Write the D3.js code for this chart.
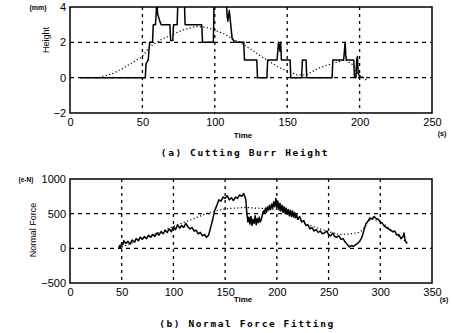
<!DOCTYPE html>
<html><head><meta charset="utf-8">
<script src="https://cdn.jsdelivr.net/npm/d3@7"></script>
<style>
body{margin:0;background:#fff;}
svg{display:block;}
.tick text{font-family:"Liberation Sans",Arial,sans-serif;font-size:11px;fill:#000;}
.lab{font-family:"Liberation Sans",Arial,sans-serif;fill:#000;}
.cap{font-family:"DejaVu Sans Mono",monospace;font-weight:bold;font-size:9.5px;fill:#000;letter-spacing:1.6px;}
</style></head><body>
<svg id="c" width="452" height="333"></svg>
<script>
// ---- Chart (a): Cutting Burr Height ----
const aXTicks = [0, 50, 100, 150, 200, 250];
const aYTicks = [-2, 0, 2, 4];
const aMeasured = [
 [7,0],[52,0],[52.5,0.8],[54,1.0],[55,2],[57,2],[57.5,3],[59,3],[59.5,3.6],[60,4.5],[60.5,3.6],[62,3.2],[63,3],
 [69,3],[69.5,2.1],[71,2.1],[71.5,3],[74,3],[74.5,4.3],[79,4.3],[79.5,3],[91,3],[91.5,2],[99,2],[99.5,4.3],
 [108,4.3],[108.5,3.5],[109,3.2],[110,3.8],[111,3.0],[112,2.2],[113,2.1],[114,2.0],[120,2.0],[120.5,1],[129,1],
 [129.5,0],[136,0],[136.5,1],[143,1],[144,2.0],[145,1.5],[145.5,2],[146,1],[152,1],[152.5,0],[160,0],[160.5,1],
 [163,1],[163.5,0],[181,0],[181.5,1],[189,1],[189.5,1.5],[190,2.0],[190.5,1.2],[191,1],[196,1],[196.5,0],
 [197.5,0],[198,1.0],[198.5,1.2],[199,0.3],[200,0.05],[203,0]
];
const aFitted = [
 [20,0],[30,0.25],[37,0.55],[46,1.0],[50,1.2],[55,1.75],[64,2.2],[78,2.7],[87,2.9],[94,2.85],[106,2.5],
 [117,2.0],[125,1.6],[133,1.15],[145,0.55],[157,0.15],[163,0.15],[172,0.55],[181,0.8],[190,1.0],[195,0.75],
 [199,0.2],[205,-0.15]
];
// ---- Chart (b): Normal Force Fitting ----
const bXTicks = [0, 50, 100, 150, 200, 250, 300, 350];
const bYTicks = [-500, 0, 500, 1000];
const bMeasured = [
 [47,-10],[48,40],[49,10],[50,80],[51,50],[52,110],[54,70],[56,100],[58,60],[60,120],[62,90],[64,140],[66,110],
 [68,160],[70,130],[72,170],[74,140],[76,190],[78,160],[80,200],[82,170],[84,220],[86,190],[88,240],[90,210],
 [92,260],[94,230],[96,280],[98,240],[100,310],[102,270],[104,340],[106,290],[108,330],[110,300],[112,360],
 [114,310],[116,280],[118,300],[120,250],[122,260],[124,210],[126,230],[128,180],[130,200],[132,160],[134,190],
 [136,300],[138,420],[140,550],[142,620],[144,700],[146,680],[148,740],[150,720],[152,760],[154,700],[156,730],
 [158,690],[160,740],[162,720],[164,770],[166,750],[168,790],[170,700],[171,500],[172,380],[173,450],[174,350],
 [175,460],[176,330],[177,420],[178,360],[179,470],[180,340],[181,430],[182,370],[183,450],[184,380],[185,420],
 [186,480],[187,540],[188,510],[189,580],[190,520],[191,600],[192,550],[193,620],[194,560],[195,640],[196,580],
 [197,670],[198,600],[199,720],[200,590],[201,680],[202,560],[203,650],[204,540],[205,620],[206,520],[207,600],
 [208,500],[209,580],[210,490],[211,560],[212,470],[213,550],[214,460],[215,540],[216,450],[217,520],[218,440],
 [219,500],[220,420],[222,460],[224,380],[226,400],[228,330],[230,340],[232,280],[234,300],[236,250],[238,270],
 [240,230],[242,250],[244,210],[246,220],[248,250],[250,200],[252,180],[254,220],[256,170],[258,160],[260,180],
 [262,130],[264,140],[266,90],[268,60],[270,20],[272,40],[274,30],[276,50],[278,70],[280,100],[282,150],[284,250],
 [286,350],[288,390],[290,440],[292,420],[294,460],[296,430],[298,420],[300,380],[302,360],[304,320],[306,300],
 [308,280],[310,260],[312,240],[314,250],[316,190],[318,200],[320,140],[322,170],[323,220],[324,110],[326,70]
];
const bFitted = [
 [47,0],[135,520],[150,570],[160,580],[170,590],[180,580],[190,575],[200,560],[210,520],[220,430],[230,340],
 [240,290],[250,240],[260,200],[270,205],[280,230],[285,300],[288,390],[292,425],[300,390],[310,270],[320,150],[326,80]
];

const svg = d3.select("#c");

function panel(o){
  const g = svg.append("g");
  const x = d3.scaleLinear().domain(o.xd).range([o.l, o.r]);
  const y = d3.scaleLinear().domain(o.yd).range([o.b, o.t]);
  g.selectAll(".gx").data(o.xt.slice(1,-1)).join("line")
    .attr("x1",d=>x(d)).attr("x2",d=>x(d)).attr("y1",o.t).attr("y2",o.b)
    .attr("stroke","#000").attr("stroke-width",1.3).attr("stroke-dasharray","3,4");
  g.selectAll(".gy").data(o.yt.slice(1,-1)).join("line")
    .attr("y1",d=>y(d)).attr("y2",d=>y(d)).attr("x1",o.l).attr("x2",o.r)
    .attr("stroke","#000").attr("stroke-width",1.3).attr("stroke-dasharray","4,4");
  const cid = "clip"+o.id;
  svg.append("clipPath").attr("id",cid).append("rect")
    .attr("x",o.l).attr("y",o.t).attr("width",o.r-o.l).attr("height",o.b-o.t);
  const line = d3.line().x(d=>x(d[0])).y(d=>y(d[1]));
  g.append("path").datum(o.fit).attr("d",line).attr("clip-path",`url(#${cid})`)
    .attr("fill","none").attr("stroke","#000").attr("stroke-width",1.2).attr("stroke-dasharray","1.2,2.3");
  g.append("path").datum(o.meas).attr("d",line).attr("clip-path",`url(#${cid})`)
    .attr("fill","none").attr("stroke","#000").attr("stroke-width",1.5).attr("stroke-linejoin","round");
  g.append("rect").attr("x",o.l).attr("y",o.t).attr("width",o.r-o.l).attr("height",o.b-o.t)
    .attr("fill","none").attr("stroke","#000").attr("stroke-width",1.5);
  const fmt = d3.format("d");
  g.append("g").attr("transform",`translate(0,${o.b})`)
    .call(d3.axisBottom(x).tickValues(o.xt).tickFormat(fmt).tickSize(0).tickPadding(5))
    .call(a=>a.select(".domain").remove());
  g.append("g").attr("transform",`translate(${o.l},0)`)
    .call(d3.axisLeft(y).tickValues(o.yt).tickFormat(fmt).tickSize(0).tickPadding(4))
    .call(a=>a.select(".domain").remove());
  return {x,y,g};
}

panel({id:"a", xd:[0,250], yd:[-2,4], l:70, r:432, t:7, b:113,
  xt:aXTicks, yt:aYTicks, meas:aMeasured, fit:aFitted});
panel({id:"b", xd:[0,350], yd:[-500,1000], l:70, r:432, t:179, b:283,
  xt:bXTicks, yt:bYTicks, meas:bMeasured, fit:bFitted});

svg.append("text").attr("class","lab").attr("x",38).attr("y",10).attr("text-anchor","middle")
  .attr("font-size",7).attr("font-weight","bold").text("(mm)");
svg.append("text").attr("class","lab").attr("transform","translate(49,40) rotate(-90)")
  .attr("text-anchor","middle").attr("font-size",9).text("Height");
svg.append("text").attr("class","lab").attr("x",243).attr("y",138).attr("text-anchor","middle")
  .attr("font-size",8).attr("font-weight","bold").text("Time");
svg.append("text").attr("class","lab").attr("x",442).attr("y",136).attr("text-anchor","middle")
  .attr("font-size",7).attr("font-weight","bold").text("(s)");
svg.append("text").attr("class","cap").attr("x",245).attr("y",156).attr("text-anchor","middle")
  .text("(a) Cutting Burr Height");

svg.append("text").attr("class","lab").attr("x",26).attr("y",182).attr("text-anchor","middle")
  .attr("font-size",6.5).attr("font-weight","bold").text("(e-N)");
svg.append("text").attr("class","lab").attr("transform","translate(36,230) rotate(-90)")
  .attr("text-anchor","middle").attr("font-size",9).text("Normal Force");
svg.append("text").attr("class","lab").attr("x",243).attr("y",302).attr("text-anchor","middle")
  .attr("font-size",8).attr("font-weight","bold").text("Time");
svg.append("text").attr("class","lab").attr("x",444).attr("y",302).attr("text-anchor","middle")
  .attr("font-size",7).attr("font-weight","bold").text("(s)");
svg.append("text").attr("class","cap").attr("x",247).attr("y",327).attr("text-anchor","middle")
  .text("(b) Normal Force Fitting");
</script></body></html>
